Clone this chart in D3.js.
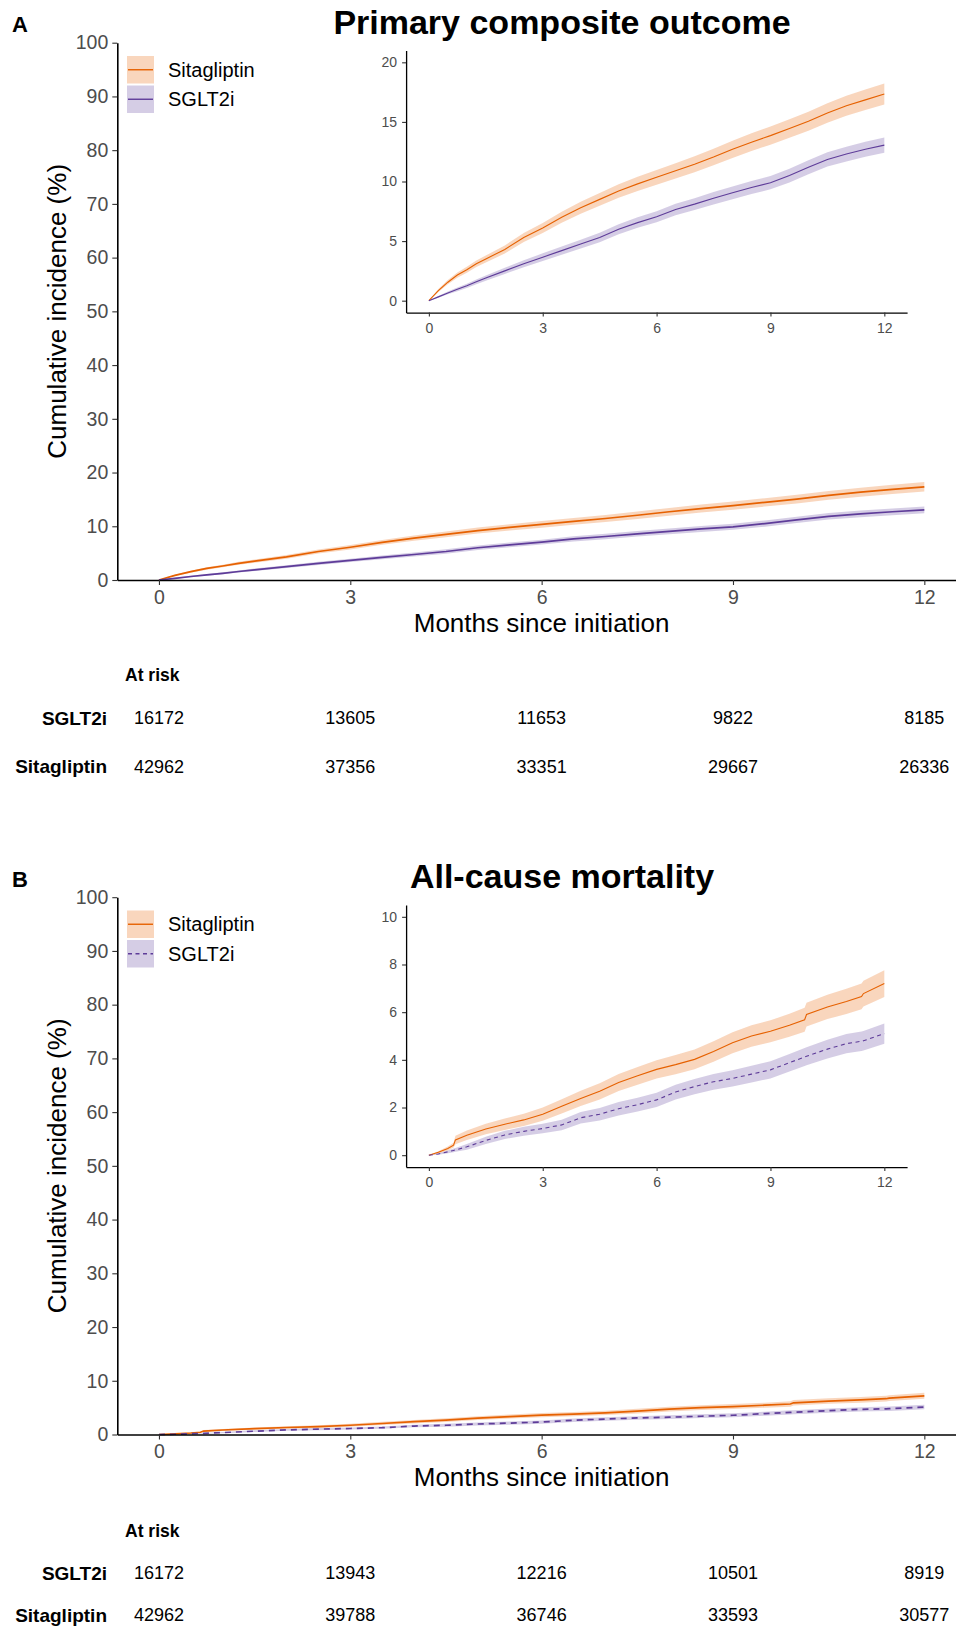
<!DOCTYPE html>
<html>
<head>
<meta charset="utf-8">
<script src="https://cdn.jsdelivr.net/npm/d3@7"></script>
<style>
  body { margin: 0; background: #fff; }
  svg { display: block; font-family: "Liberation Sans", Arial, sans-serif; }
</style>
</head>
<body>
<div id="chart"></div>
<script>
// ---- data ----
// panel A: primary composite outcome (cumulative incidence %, and half width of the CI band)
const timesA = [0, 0.25, 0.5, 0.75, 1, 1.25, 1.5, 2, 2.5, 3, 3.5, 4, 4.5, 5, 5.5, 6, 6.5, 7, 7.5, 8, 8.5, 9, 9.5, 10, 10.5, 11, 11.5, 12];
const sitaA   = [0, 0.85, 1.55, 2.15, 2.6, 3.1, 3.5, 4.3, 5.3, 6.1, 7.0, 7.8, 8.5, 9.2, 9.8, 10.35, 10.9, 11.45, 12.05, 12.7, 13.3, 13.85, 14.45, 15.05, 15.75, 16.35, 16.85, 17.35];
const sitaCiA = [0, 0.12, 0.18, 0.22, 0.25, 0.28, 0.3, 0.34, 0.38, 0.42, 0.46, 0.5, 0.53, 0.56, 0.59, 0.62, 0.64, 0.67, 0.69, 0.72, 0.74, 0.76, 0.78, 0.8, 0.82, 0.84, 0.86, 0.88];
const sgltA   = [0, 0.32, 0.65, 0.95, 1.25, 1.58, 1.9, 2.5, 3.1, 3.65, 4.2, 4.75, 5.3, 6.0, 6.55, 7.05, 7.65, 8.1, 8.6, 9.05, 9.5, 9.9, 10.5, 11.2, 11.85, 12.3, 12.7, 13.05];
const sgltCiA = [0, 0.08, 0.12, 0.15, 0.18, 0.2, 0.22, 0.26, 0.29, 0.32, 0.35, 0.37, 0.4, 0.42, 0.44, 0.46, 0.48, 0.5, 0.52, 0.53, 0.55, 0.56, 0.58, 0.59, 0.6, 0.62, 0.63, 0.64];

// panel B: all-cause mortality
const timesB = [0, 0.25, 0.5, 0.65, 0.7, 1, 1.5, 2, 2.5, 3, 3.5, 4, 4.5, 5, 5.5, 6, 6.5, 7, 7.5, 8, 8.5, 9, 9.5, 9.9, 9.95, 10.5, 11, 11.4, 11.45, 12];
const sitaB   = [0, 0.12, 0.28, 0.42, 0.64, 0.84, 1.1, 1.3, 1.48, 1.72, 2.05, 2.38, 2.68, 3.05, 3.33, 3.6, 3.8, 4.02, 4.35, 4.72, 5.0, 5.2, 5.45, 5.68, 5.9, 6.22, 6.45, 6.66, 6.78, 7.2];
const sitaCiB = [0, 0.05, 0.08, 0.1, 0.18, 0.2, 0.22, 0.24, 0.26, 0.28, 0.3, 0.32, 0.34, 0.36, 0.37, 0.38, 0.4, 0.41, 0.43, 0.44, 0.45, 0.46, 0.48, 0.5, 0.5, 0.51, 0.53, 0.54, 0.54, 0.56];
const sgltB   = [0, 0.05, 0.14, 0.2, 0.22, 0.35, 0.62, 0.85, 1.0, 1.12, 1.27, 1.57, 1.72, 1.95, 2.12, 2.32, 2.65, 2.88, 3.08, 3.22, 3.4, 3.58, 3.88, 4.12, 4.15, 4.45, 4.68, 4.78, 4.8, 5.1];
const sgltCiB = [0, 0.03, 0.06, 0.08, 0.08, 0.12, 0.15, 0.17, 0.19, 0.2, 0.22, 0.24, 0.26, 0.28, 0.29, 0.3, 0.31, 0.32, 0.33, 0.34, 0.35, 0.36, 0.37, 0.38, 0.38, 0.39, 0.4, 0.41, 0.41, 0.42];

// numbers at risk
const riskTimes = [0, 3, 6, 9, 12];
const riskSgltA = [16172, 13605, 11653, 9822, 8185];
const riskSitaA = [42962, 37356, 33351, 29667, 26336];
const riskSgltB = [16172, 13943, 12216, 10501, 8919];
const riskSitaB = [42962, 39788, 36746, 33593, 30577];

const xTicks = [0, 3, 6, 9, 12];
const mainYTicks = d3.range(0, 101, 10);

// ---- setup ----
const width = 956, height = 1633;
const svg = d3.select('#chart').append('svg')
  .attr('width', width)
  .attr('height', height);

const sitaColor = '#e66101', sgltColor = '#5e3c99';
const tickGrey = '#4d4d4d';

const panels = [
  { letter: 'A', title: 'Primary composite outcome', dy: 0,
    times: timesA, sita: sitaA, sitaCi: sitaCiA, sglt: sgltA, sgltCi: sgltCiA,
    insetMax: 20, insetStep: 5, dashed: false,
    riskSglt: riskSgltA, riskSita: riskSitaA, tableY: [675, 718, 766.5] },
  { letter: 'B', title: 'All-cause mortality', dy: 854.5,
    times: timesB, sita: sitaB, sitaCi: sitaCiB, sglt: sgltB, sgltCi: sgltCiB,
    insetMax: 10, insetStep: 2, dashed: true,
    riskSglt: riskSgltB, riskSita: riskSitaB, tableY: [1530.5, 1573, 1615] }
];

function styleAxis(g, fontSize, lineW) {
  g.attr('font-family', null).attr('font-size', null);
  g.select('.domain').attr('stroke', '#000').attr('stroke-width', lineW);
  g.selectAll('.tick line').attr('stroke', '#333').attr('stroke-width', 1.1);
  g.selectAll('.tick text').attr('fill', tickGrey).style('font-size', fontSize + 'px');
}

function drawCurves(g, x, y, p, lw, dash) {
  const series = [
    { est: p.sita, ci: p.sitaCi, color: sitaColor, dashed: false },
    { est: p.sglt, ci: p.sgltCi, color: sgltColor, dashed: p.dashed }
  ];
  const area = d3.area()
    .x((d, i) => x(p.times[i]))
    .y0(d => y(Math.max(0, d.v - d.c)))
    .y1(d => y(d.v + d.c));
  const line = d3.line()
    .x((d, i) => x(p.times[i]))
    .y(d => y(d.v));

  // bands first, then lines on top
  series.forEach(s => {
    const pts = s.est.map((v, i) => ({ v: v, c: s.ci[i] }));
    g.append('path').datum(pts)
      .attr('d', area)
      .attr('fill', s.color)
      .attr('fill-opacity', 0.26);
  });
  series.forEach(s => {
    const pts = s.est.map((v, i) => ({ v: v, c: s.ci[i] }));
    g.append('path').datum(pts)
      .attr('d', line)
      .attr('fill', 'none')
      .attr('stroke', s.color)
      .attr('stroke-width', lw)
      .attr('stroke-dasharray', s.dashed ? dash : null);
  });
}

function drawPanel(p) {
  const dy = p.dy;
  const g = svg.append('g');

  // --- main plot scales ---
  const x = d3.scaleLinear().domain([-0.653, 12.6]).range([117.3, 962.6]);
  const y = d3.scaleLinear().domain([0, 100]).range([580 + dy, 42.7 + dy]);

  drawCurves(g, x, y, p, 1.7, '6,5');

  const yAx = g.append('g')
    .attr('transform', `translate(${x.range()[0]},0)`)
    .call(d3.axisLeft(y).tickValues(mainYTicks).tickSize(5).tickSizeOuter(0).tickPadding(4));
  styleAxis(yAx, 19.5, 1.6);

  const xAx = g.append('g')
    .attr('transform', `translate(0,${y(0)})`)
    .call(d3.axisBottom(x).tickValues(xTicks).tickSize(5).tickSizeOuter(0).tickPadding(5));
  styleAxis(xAx, 19.5, 1.6);

  // axis titles
  g.append('text')
    .attr('transform', `translate(57,${(y(0) + y(100)) / 2}) rotate(-90)`)
    .attr('text-anchor', 'middle')
    .attr('dy', '0.35em')
    .style('font-size', '26px')
    .text('Cumulative incidence (%)');

  g.append('text')
    .attr('x', x(6))
    .attr('y', 631.5 + dy)
    .attr('text-anchor', 'middle')
    .style('font-size', '26px')
    .text('Months since initiation');

  // title and panel letter
  g.append('text')
    .attr('x', 562)
    .attr('y', 33.5 + dy)
    .attr('text-anchor', 'middle')
    .style('font-size', '34px')
    .style('font-weight', 'bold')
    .text(p.title);

  g.append('text')
    .attr('x', 12)
    .attr('y', 32 + dy)
    .style('font-size', '22px')
    .style('font-weight', 'bold')
    .text(p.letter);

  // legend
  const legend = [
    { label: 'Sitagliptin', color: sitaColor, dashed: false, y0: 56 },
    { label: 'SGLT2i', color: sgltColor, dashed: p.dashed, y0: 85.5 }
  ];
  legend.forEach(d => {
    g.append('rect')
      .attr('x', 127).attr('y', d.y0 + dy)
      .attr('width', 27).attr('height', 27.5)
      .attr('fill', d.color).attr('fill-opacity', 0.26);
    g.append('line')
      .attr('x1', 128).attr('x2', 153)
      .attr('y1', d.y0 + 13.75 + dy).attr('y2', d.y0 + 13.75 + dy)
      .attr('stroke', d.color).attr('stroke-width', 1.4)
      .attr('stroke-dasharray', d.dashed ? '4,3.5' : null);
    g.append('text')
      .attr('x', 168).attr('y', d.y0 + 13.75 + dy)
      .attr('dy', '0.35em')
      .style('font-size', '20px')
      .text(d.label);
  });

  // --- inset ---
  const ix = d3.scaleLinear().domain([-0.6, 12.6]).range([406.1, 907.1]);
  const iy = d3.scaleLinear()
    .domain([-0.05 * p.insetMax, 1.05 * p.insetMax])
    .range([312.6 + dy, 50.4 + dy]);

  drawCurves(g, ix, iy, p, 1.1, '4,3.5');

  const iyAx = g.append('g')
    .attr('transform', `translate(${ix.range()[0]},0)`)
    .call(d3.axisLeft(iy).tickValues(d3.range(0, p.insetMax + 0.01, p.insetStep)).tickSize(4).tickSizeOuter(0).tickPadding(5));
  styleAxis(iyAx, 14, 1.3);

  const ixAx = g.append('g')
    .attr('transform', `translate(0,${iy.range()[0]})`)
    .call(d3.axisBottom(ix).tickValues(xTicks).tickSize(4).tickSizeOuter(0).tickPadding(6));
  styleAxis(ixAx, 14, 1.3);

  // --- numbers at risk ---
  const [yHead, ySglt, ySita] = p.tableY;
  g.append('text')
    .attr('x', 125).attr('y', yHead).attr('dy', '0.35em')
    .style('font-size', '17.5px').style('font-weight', 'bold')
    .text('At risk');

  const rows = [
    { label: 'SGLT2i', vals: p.riskSglt, y: ySglt },
    { label: 'Sitagliptin', vals: p.riskSita, y: ySita }
  ];
  rows.forEach(r => {
    g.append('text')
      .attr('x', 107).attr('y', r.y).attr('dy', '0.35em')
      .attr('text-anchor', 'end')
      .style('font-size', '19px').style('font-weight', 'bold')
      .text(r.label);
    g.selectAll(null).data(r.vals).enter().append('text')
      .attr('x', (d, i) => x(riskTimes[i]))
      .attr('y', r.y).attr('dy', '0.35em')
      .attr('text-anchor', 'middle')
      .style('font-size', '18px')
      .text(d => d);
  });
}

panels.forEach(drawPanel);
</script>
</body>
</html>
